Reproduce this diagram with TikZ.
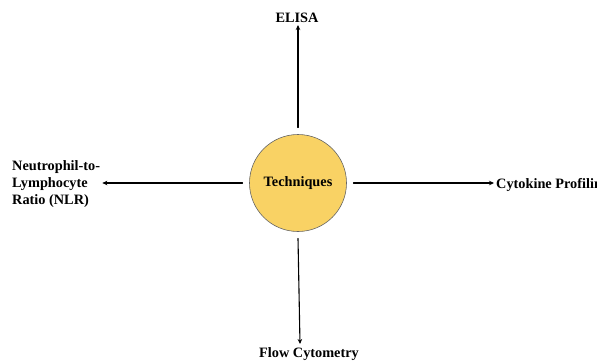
\documentclass[tikz,border=0pt]{standalone}
\usepackage{fontspec}
\setmainfont{Liberation Serif}
\usetikzlibrary{arrows.meta}
\definecolor{hubfill}{HTML}{F9D264}

\begin{document}
\begin{tikzpicture}[x=1pt,y=-1pt,line cap=round,
  lbl/.style={font=\bfseries\fontsize{14.3}{17}\selectfont,inner sep=2pt},
  arr/.style={line width=1.1pt,-{Stealth[length=5pt,width=4.5pt]}}]
  \useasboundingbox (0,0) rectangle (597,360);
  \clip (0,0) rectangle (597,360);

  \node[circle,draw=gray!80!black,line width=.6pt,fill=hubfill,minimum size=97pt,
        lbl,outer sep=7pt] (tech) at (298,183) {Techniques};

  \node[lbl] (elisa) at (297,18) {ELISA};
  \node[lbl,anchor=west,align=left] (nlr) at (10,184) {Neutrophil-to-\\Lymphocyte\\Ratio (NLR)};
  \node[lbl,anchor=west] (cyto) at (494,185) {Cytokine Profiling};
  \node[lbl] (flow) at (309,354) {Flow Cytometry};

  \draw[arr] (tech.north) -- (tech.north |- elisa.south);
  \draw[arr] (tech.west) -- (tech.west -| nlr.east);
  \draw[arr] (tech.east) -- (tech.east -| cyto.west);
  \draw[arr] (tech.south) -- (300,344);
\end{tikzpicture}
\end{document}
